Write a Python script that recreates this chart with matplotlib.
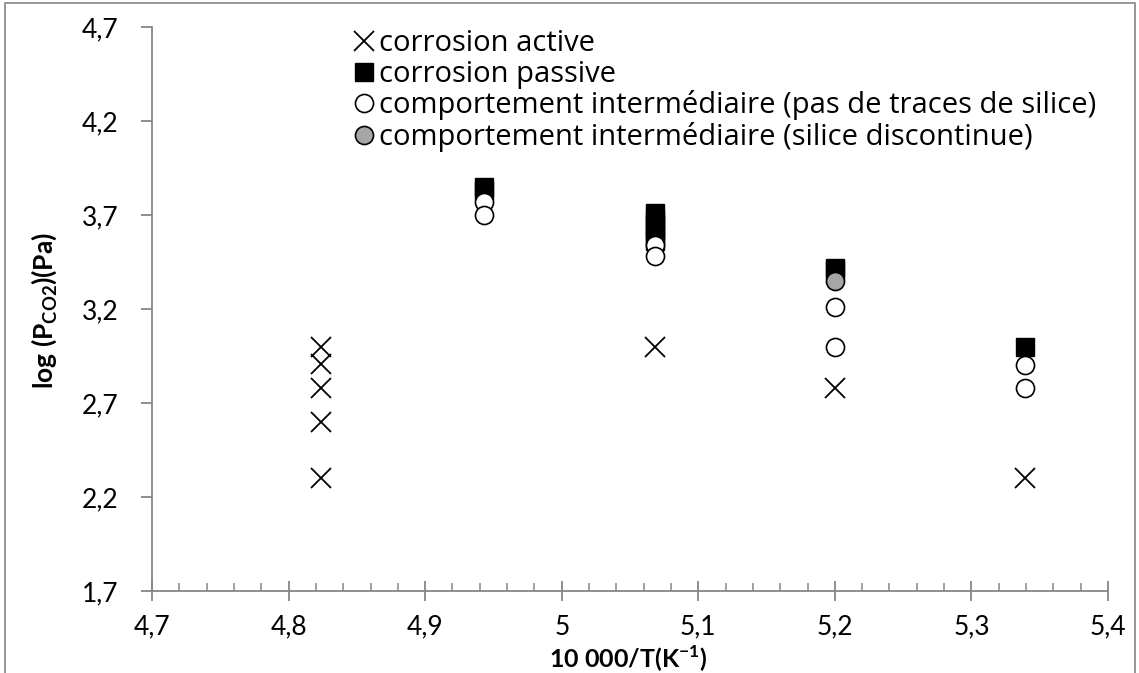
import matplotlib.pyplot as plt
from matplotlib.ticker import MultipleLocator, FuncFormatter
from matplotlib.patches import Rectangle

plt.rcParams['font.family'] = ['Lato', 'DejaVu Sans']

# 10000/T for T = 2073, 2023, 1973, 1923, 1873 K
active_x = [4.824, 4.824, 4.824, 4.824, 4.824, 5.068, 5.200, 5.339]
active_y = [3.00, 2.91, 2.78, 2.60, 2.30, 3.00, 2.78, 2.30]

passive_x = [4.943, 4.943, 5.068, 5.068, 5.068, 5.068, 5.068, 5.068, 5.200, 5.200, 5.339]
passive_y = [3.85, 3.83, 3.71, 3.68, 3.65, 3.62, 3.59, 3.56, 3.42, 3.41, 3.00]

inter_x = [4.943, 4.943, 5.068, 5.068, 5.200, 5.200, 5.339, 5.339]
inter_y = [3.77, 3.70, 3.54, 3.48, 3.21, 3.00, 2.90, 2.78]

silica_x = [5.200]
silica_y = [3.35]

y_ticks = [1.7, 2.2, 2.7, 3.2, 3.7, 4.2, 4.7]

labels = ['corrosion active',
          'corrosion passive',
          'comportement intermédiaire (pas de traces de silice)',
          'comportement intermédiaire (silice discontinue)']

fig = plt.figure(figsize=(11.39, 6.73), dpi=100)
ax = fig.add_axes([152 / 1139, 1 - 591 / 673, (1108 - 152) / 1139, (591 - 27) / 673])

ax.plot(active_x, active_y, 'x', color='black', markersize=14, markeredgewidth=1.3,
        linestyle='none', label=labels[0])
ax.plot(passive_x, passive_y, 's', color='black', markersize=12.5,
        linestyle='none', label=labels[1])
ax.plot(inter_x, inter_y, 'o', markerfacecolor='white', markeredgecolor='black',
        markersize=13, markeredgewidth=1.2, linestyle='none', label=labels[2])
ax.plot(silica_x, silica_y, 'o', markerfacecolor='#a6a6a6', markeredgecolor='black',
        markersize=13, markeredgewidth=1.2, linestyle='none', label=labels[3])

ax.set_xlim(4.7, 5.4)
ax.set_ylim(1.7, 4.7)
ax.xaxis.set_major_locator(MultipleLocator(0.1))
ax.xaxis.set_minor_locator(MultipleLocator(0.02))
ax.set_yticks(y_ticks)

comma = FuncFormatter(lambda v, p: ('%g' % round(v, 2)).replace('.', ','))
ax.xaxis.set_major_formatter(comma)
ax.yaxis.set_major_formatter(comma)

for s in ['top', 'right']:
    ax.spines[s].set_visible(False)
for s in ['left', 'bottom']:
    ax.spines[s].set_color('#868686')
    ax.spines[s].set_linewidth(1.3)

ax.tick_params(axis='x', which='major', direction='inout', length=14, width=1.3,
               color='#868686', labelsize=19, pad=10)
ax.tick_params(axis='x', which='minor', direction='in', length=6, width=1.1,
               color='#868686')
ax.tick_params(axis='y', which='major', direction='out', length=8, width=1.3,
               color='#868686', labelsize=19, pad=16)

fig.text(44 / 1139, 1 - 310 / 673, 'log (P$_{\\mathregular{CO2}}$)(Pa)', rotation=90,
         ha='center', va='center', fontsize=19, fontweight='bold')
fig.text(628 / 1139, 1 - 659 / 673, '10 000/T(K$^{\\mathregular{-1}}$)',
         ha='center', va='center', fontsize=18, fontweight='bold')

ax.legend(loc='upper left', bbox_to_anchor=(355 / 1139, 1 - 29 / 673),
          bbox_transform=fig.transFigure, frameon=False,
          prop={'family': 'Open Sans', 'size': 21},
          handlelength=0.62, handletextpad=0.2, labelspacing=0.06,
          borderpad=0, borderaxespad=0, markerscale=1.0)

fig.patches.append(Rectangle((5 / 1139, -0.01), 1130 / 1139, 1 - 3 / 673 + 0.01,
                             transform=fig.transFigure, fill=False,
                             edgecolor='#868686', linewidth=1.2))

fig.savefig('out.png', dpi=100)
